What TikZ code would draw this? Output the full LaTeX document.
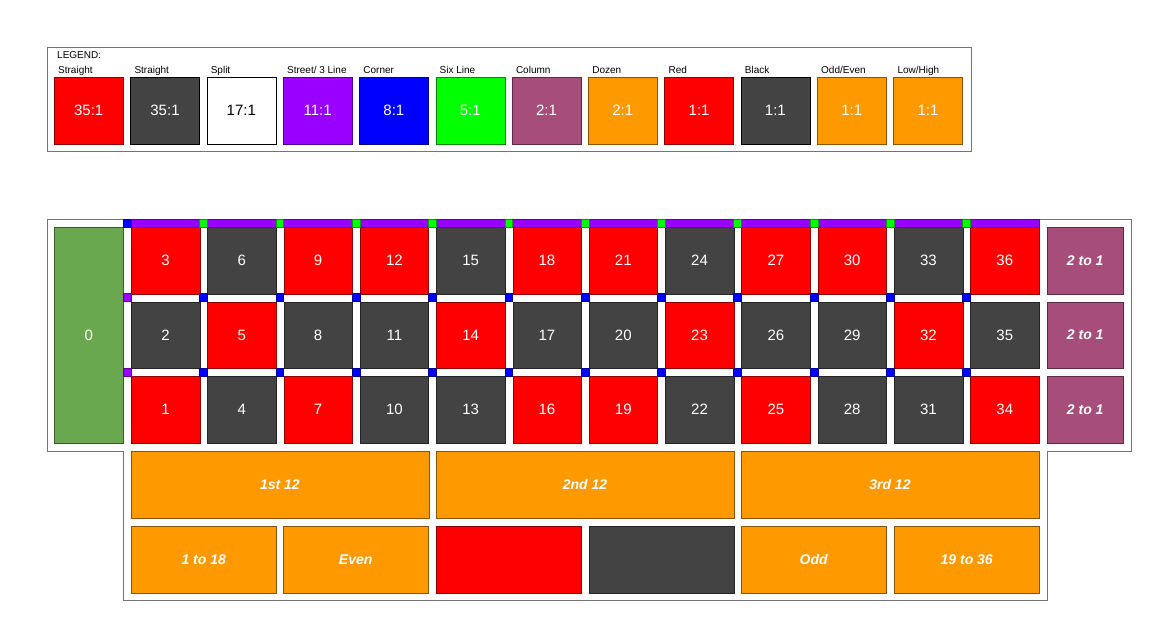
\documentclass[tikz,border=0pt]{standalone}
\usepackage{fontspec}
\setmainfont{Liberation Sans}
\definecolor{rred}{HTML}{FF0000}
\definecolor{rblack}{HTML}{434343}
\definecolor{rpurple}{HTML}{9900FF}
\definecolor{rblue}{HTML}{0000FF}
\definecolor{rgreen}{HTML}{00FF00}
\definecolor{rcolumn}{HTML}{A64D79}
\definecolor{rorange}{HTML}{FF9900}
\definecolor{rzero}{HTML}{6AA84F}
\tikzset{
  box/.style={draw=#1!55!black, fill=#1, anchor=north west, inner sep=0pt,
    text=white, font=\fontsize{15}{15}\selectfont},
  cell/.style={box=#1, minimum width=68.5, minimum height=66.5},
  outside/.style={box=#1, font=\fontsize{14}{14}\selectfont\bfseries\itshape},
  legbox/.style={box=#1, minimum width=69, minimum height=67},
  leglabel/.style={anchor=base west, inner sep=0pt, font=\fontsize{10}{10}\selectfont},
  chip/.style={draw=#1!60!black, fill=#1, line width=0.4pt},
  frame/.style={draw=black!55, line width=1pt}
}
\begin{document}
\begin{tikzpicture}[x=1pt,y=-1pt]
  \useasboundingbox (0,0) rectangle (1156,640);
  % legend
  \draw[frame] (47,47) rectangle (971,151);
  \node[leglabel] (legtitle) at (57,58) {LEGEND:};
  \foreach \col/\edge/\txt/\lab/\pay [count=\i from 0] in {
      rred/rred!55!black/white/Straight/35:1,
      rblack/black/white/Straight/35:1,
      white/black/black/Split/17:1,
      rpurple/rpurple!55!black/white/{Street/ 3 Line}/11:1,
      rblue/rblue!55!black/white/Corner/8:1,
      rgreen/rgreen!55!black/white/Six Line/5:1,
      rcolumn/rcolumn!55!black/white/Column/2:1,
      rorange/rorange!55!black/white/Dozen/2:1,
      rred/rred!55!black/white/Red/1:1,
      rblack/black/white/Black/1:1,
      rorange/rorange!55!black/white/Odd\slash Even/1:1,
      rorange/rorange!55!black/white/Low\slash High/1:1} {
    \node[leglabel] (leglab\i) at (58+76.3*\i,73) {\lab};
    \node[legbox=\col, draw=\edge, text=\txt] (leg\i) at (54+76.3*\i,77) {\pay};
  }
  % table outline
  \draw[frame] (47,219) -- (1131,219) -- (1131,451) -- (1047,451) -- (1047,600)
    -- (123,600) -- (123,451) -- (47,451) -- cycle;
  \node[box=rzero, minimum width=69, minimum height=216] (zero) at (54,227) {0};
  % numbers
  \foreach \c in {1,...,12} {
    \foreach \r in {0,1,2} {
      \pgfmathtruncatemacro\n{3*\c-\r}
      \pgfmathtruncatemacro\isred{mod(\n+and(\n>10,\n<19)+(\n>28),2)}
      \ifnum\isred=1 \def\col{rred}\else\def\col{rblack}\fi
      \node[cell=\col] (n\n) at (131+76.3*\c-76.3,227+74.5*\r) {\n};
    }
  }
  \foreach \r in {0,1,2}
    \node[outside=rcolumn, minimum width=76, minimum height=66.5] (col\r) at (1047,227+74.5*\r) {2 to 1};
  % dozens
  \node[outside=rorange, minimum width=297.5, minimum height=67] (doz1) at (131,451) {1st 12};
  \node[outside=rorange, minimum width=297.5, minimum height=67] (doz2) at (436,451) {2nd 12};
  \node[outside=rorange, minimum width=297.5, minimum height=67] (doz3) at (741,451) {3rd 12};
  % even money
  \node[outside=rorange, minimum width=145, minimum height=67] (low) at (131,526) {1 to 18};
  \node[outside=rorange, minimum width=145, minimum height=67] (even) at (283,526) {Even};
  \node[outside=rred, minimum width=145, minimum height=67] (red) at (436,526) {};
  \node[outside=rblack, minimum width=145, minimum height=67] (black) at (589,526) {};
  \node[outside=rorange, minimum width=145, minimum height=67] (odd) at (741,526) {Odd};
  \node[outside=rorange, minimum width=145, minimum height=67] (high) at (894,526) {19 to 36};
  % bet markers
  \draw[chip=rblue] (123,219) rectangle (131,227);
  \draw[chip=rpurple] (123,293) rectangle (131,301);
  \draw[chip=rpurple] (123,368) rectangle (131,376);
  \foreach \c in {0,...,11}
    \draw[chip=rpurple] (131+76.3*\c,219) rectangle (199.5+76.3*\c,227);
  \foreach \c in {0,...,10} {
    \draw[chip=rgreen] (199.5+76.3*\c,219) rectangle (207.3+76.3*\c,227);
    \draw[chip=rblue] (199.5+76.3*\c,293) rectangle (207.3+76.3*\c,301);
    \draw[chip=rblue] (199.5+76.3*\c,368) rectangle (207.3+76.3*\c,376);
  }
\end{tikzpicture}
\end{document}
